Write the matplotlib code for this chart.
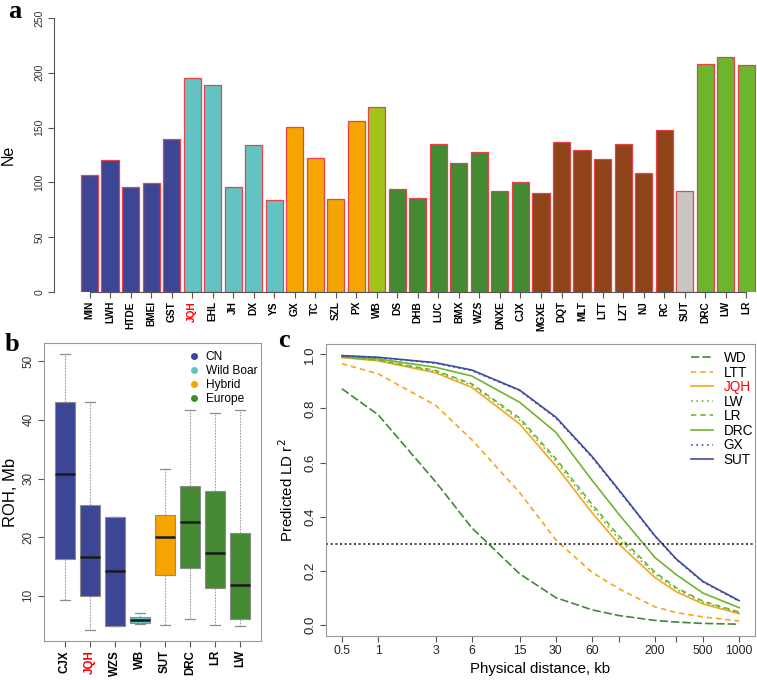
import matplotlib
matplotlib.use('Agg')
import matplotlib.pyplot as plt
from matplotlib.lines import Line2D

plt.rcParams['font.family'] = ['Liberation Sans', 'DejaVu Sans']

# ---------------- data ----------------
# Panel a
breeds_a = ['MIN', 'LWH', 'HTDE', 'BMEI', 'GST', 'JQH', 'EHL', 'JH', 'DX', 'YS',
            'GX', 'TC', 'SZL', 'PX', 'WB', 'DS', 'DHB', 'LUC', 'BMX', 'WZS',
            'DNXE', 'CJX', 'MGXE', 'DQT', 'MLT', 'LTT', 'LZT', 'NJ', 'RC', 'SUT',
            'DRC', 'LW', 'LR']
ne_a = [107, 120, 96, 99, 140, 195, 189, 96, 134, 84,
        151, 122, 85, 156, 169, 94, 86, 135, 118, 128,
        92, 100, 90, 137, 130, 121, 135, 109, 148, 92,
        208, 214, 207]
group_a = ['CN'] * 5 + ['WildBoar'] * 5 + ['Hybrid'] * 4 + ['WB'] + ['EuroDark'] * 7 + \
          ['Brown'] * 7 + ['Gray'] + ['Europe'] * 3

# Panel b
breeds_b = ['CJX', 'JQH', 'WZS', 'WB', 'SUT', 'DRC', 'LR', 'LW']
group_b = ['CN', 'CN', 'CN', 'WildBoar', 'Hybrid', 'EuroDark', 'EuroDark', 'EuroDark']
whislo_b = [9.3, 4.2, 4.9, 5.2, 5.05, 6.0, 5.05, 4.8]
q1_b = [16.3, 9.9, 4.9, 5.45, 13.6, 14.8, 11.3, 6.0]
med_b = [30.7, 16.6, 14.3, 5.8, 20.1, 22.6, 17.25, 11.9]
q3_b = [43.0, 25.4, 23.5, 6.4, 23.8, 28.65, 27.8, 20.7]
whishi_b = [51.3, 43.0, 23.5, 7.0, 31.6, 41.6, 41.1, 41.6]
legend_b = ['CN', 'Wild Boar', 'Hybrid', 'Europe']

# Panel c
dist_c = [0.5, 1, 3, 6, 15, 30, 60, 100, 200, 300, 500, 1000]
dist_labels = ['0.5', '1', '3', '6', '15', '30', '60', '', '200', '', '500', '1000']
r2_WD = [0.873, 0.777, 0.53, 0.36, 0.19, 0.102, 0.057, 0.036, 0.018, 0.012, 0.007, 0.004]
r2_LTT = [0.965, 0.928, 0.812, 0.685, 0.49, 0.315, 0.195, 0.135, 0.068, 0.047, 0.031, 0.016]
r2_JQH = [0.988, 0.976, 0.932, 0.878, 0.743, 0.588, 0.415, 0.30, 0.176, 0.124, 0.079, 0.043]
r2_LW = [0.989, 0.978, 0.937, 0.886, 0.757, 0.605, 0.435, 0.318, 0.188, 0.133, 0.085, 0.046]
r2_LR = [0.990, 0.979, 0.940, 0.891, 0.765, 0.615, 0.447, 0.33, 0.196, 0.139, 0.089, 0.049]
r2_DRC = [0.991, 0.983, 0.952, 0.920, 0.823, 0.712, 0.535, 0.41, 0.25, 0.187, 0.119, 0.065]
r2_GX = [0.995, 0.988, 0.967, 0.940, 0.866, 0.765, 0.620, 0.497, 0.328, 0.243, 0.160, 0.089]
r2_SUT = [0.995, 0.989, 0.969, 0.942, 0.868, 0.768, 0.623, 0.50, 0.33, 0.245, 0.162, 0.091]

colors = {'CN': '#3D4695', 'WildBoar': '#63C3C3', 'Hybrid': '#F6A400', 'WB': '#A2C31C',
          'EuroDark': '#438A33', 'Brown': '#8F4319', 'Gray': '#C9C5C5', 'Europe': '#6DB52E'}

W, H = 757, 680
fig = plt.figure(figsize=(W / 100, H / 100), dpi=100)


def ax_px(l, t, r, b):
    return fig.add_axes([l / W, 1 - b / H, (r - l) / W, (b - t) / H])


GRAY = '#555555'

# ---------------- panel a ----------------
axa = ax_px(54, 18, 781.7, 292)
lefts = [0.2 + 1.2 * i for i in range(len(breeds_a))]
centers = [x + 0.5 for x in lefts]
axa.bar(lefts, ne_a, width=1.0, align='edge',
        color=[colors[g] for g in group_a], edgecolor='#E8414A', linewidth=0.9)
axa.set_xlim(-1.376, 41.176)
axa.set_ylim(0, 250)
for s in ['top', 'right']:
    axa.spines[s].set_visible(False)
axa.spines['left'].set_bounds(0, 250)
axa.spines['bottom'].set_bounds(centers[0], centers[-1])
for s in ['left', 'bottom']:
    axa.spines[s].set_color(GRAY)
    axa.spines[s].set_linewidth(0.8)
axa.set_yticks([0, 50, 100, 150, 200, 250])
axa.tick_params(axis='y', labelrotation=90, labelsize=7.5, colors=GRAY, length=4, width=0.8, pad=3)
for lab in axa.get_yticklabels():
    lab.set_color('#333333')
    lab.set_va('center')
axa.set_xticks(centers)
axa.set_xticklabels(breeds_a, rotation=90, fontsize=7.3, fontweight='bold')
axa.tick_params(axis='x', colors=GRAY, length=4, width=0.8, pad=2.5)
for lab in axa.get_xticklabels():
    lab.set_color('red' if lab.get_text() == 'JQH' else 'black')
axa.set_ylabel('Ne', fontsize=11.5)
axa.yaxis.set_label_coords(-38 / 727.7, 0.5)

# ---------------- panel b ----------------
axb = ax_px(44, 343, 261, 641)
stats = []
for i in range(len(breeds_b)):
    stats.append(dict(med=med_b[i], q1=q1_b[i], q3=q3_b[i],
                      whislo=whislo_b[i], whishi=whishi_b[i], fliers=[]))
bp = axb.bxp(stats, positions=list(range(1, len(breeds_b) + 1)), widths=0.8,
             patch_artist=True, showfliers=False, capwidths=0.4,
             boxprops=dict(edgecolor='#8C8C8C', linewidth=0.8),
             whiskerprops=dict(color='#9A9A9A', linewidth=0.8, linestyle=(0, (1.5, 1.2))),
             capprops=dict(color='#8C8C8C', linewidth=0.9),
             medianprops=dict(color='#1A1A1A', linewidth=1.8))
for patch, g in zip(bp['boxes'], group_b):
    patch.set_facecolor(colors[g])
axb.set_xlim(0.18, 8.82)
axb.set_ylim(2.3, 53.1)
axb.set_yticks([10, 20, 30, 40, 50])
axb.tick_params(axis='y', labelrotation=90, labelsize=8.5, colors=GRAY, length=4, width=0.8, pad=3)
for lab in axb.get_yticklabels():
    lab.set_color('#333333')
    lab.set_va('center')
axb.set_xticks(list(range(1, len(breeds_b) + 1)))
axb.set_xticklabels(breeds_b, rotation=90, fontsize=8.3, fontweight='bold')
axb.tick_params(axis='x', colors=GRAY, length=4, width=0.8, pad=2.5)
for lab in axb.get_xticklabels():
    lab.set_color('red' if lab.get_text() == 'JQH' else 'black')
for s in axb.spines.values():
    s.set_color('#999999')
    s.set_linewidth(0.8)
axb.set_ylabel('ROH, Mb', fontsize=12)
axb.yaxis.set_label_coords(-26 / 217, 0.5)
leg_cols = [colors['CN'], colors['WildBoar'], colors['Hybrid'], colors['EuroDark']]
handles_b = [Line2D([], [], linestyle='none', marker='o', markersize=4,
                    markerfacecolor=c, markeredgecolor=c) for c in leg_cols]
legb = axb.legend(handles_b, legend_b, loc='upper left', bbox_to_anchor=(0.665, 0.972),
                  frameon=False, fontsize=8.6, handlelength=1.0, handletextpad=0.45,
                  labelspacing=0.15, borderpad=0, borderaxespad=0)
legb.set_zorder(5)

# ---------------- panel c ----------------
axc = ax_px(326, 344, 755, 636)
axc.set_xscale('log')
series = [
    ('WD', r2_WD, '#3F8A35', (0, (5, 1.8))),
    ('LTT', r2_LTT, '#F7A51E', (0, (3.2, 2.4))),
    ('JQH', r2_JQH, '#F7A51E', '-'),
    ('LW', r2_LW, '#6DB52E', (0, (1, 2.2))),
    ('LR', r2_LR, '#6DB52E', (0, (3.2, 2.4))),
    ('DRC', r2_DRC, '#6DB52E', '-'),
    ('GX', r2_GX, '#3D4AA0', (0, (1, 2.2))),
    ('SUT', r2_SUT, '#3D4AA0', '-'),
]
for name, vals, c, ls in series:
    axc.plot(dist_c, vals, color=c, linestyle=ls, linewidth=1.2, label=name)
axc.axhline(0.3, color='#222222', linestyle=(0, (1.2, 1.6)), linewidth=1.2)
axc.set_xlim(0.369, 1355)
axc.set_ylim(-0.0395, 1.038)
axc.minorticks_off()
axc.set_xticks(dist_c)
axc.set_xticklabels(dist_labels, fontsize=8.8)
axc.set_yticks([0.0, 0.2, 0.4, 0.6, 0.8, 1.0])
axc.set_yticklabels(['0.0', '0.2', '0.4', '0.6', '0.8', '1.0'])
axc.tick_params(axis='y', labelrotation=90, labelsize=9.5, colors=GRAY, length=4, width=0.8, pad=3)
for lab in axc.get_yticklabels():
    lab.set_color('#222222')
    lab.set_va('center')
axc.tick_params(axis='x', colors=GRAY, length=4, width=0.8, pad=2.5)
for lab in axc.get_xticklabels():
    lab.set_color('#222222')
for s in axc.spines.values():
    s.set_color('#999999')
    s.set_linewidth(0.8)
axc.set_xlabel('Physical distance, kb', fontsize=10.8, labelpad=3.5)
axc.set_ylabel('Predicted LD r$^2$', fontsize=10.8)
axc.yaxis.set_label_coords(-30 / 429, 0.5)
legc = axc.legend(loc='upper left', bbox_to_anchor=(0.851, 0.976), frameon=False,
                  fontsize=9.8, handlelength=1.6, handletextpad=0.8, labelspacing=0.04,
                  borderpad=0, borderaxespad=0)
for t in legc.get_texts():
    if t.get_text() == 'JQH':
        t.set_color('red')

# ---------------- panel letters ----------------
for txt, x, y in [('a', 8, 18), ('b', 5, 351), ('c', 278, 347)]:
    fig.text(x / W, 1 - y / H, txt, fontsize=19, fontweight='bold',
             family=['Liberation Serif', 'DejaVu Serif'], va='baseline', ha='left')

fig.savefig('out.png', dpi=100)
